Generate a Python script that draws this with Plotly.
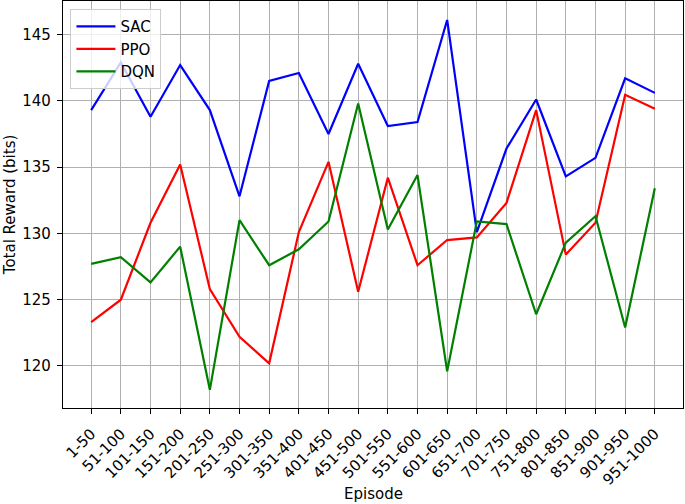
import plotly.graph_objects as go

episodes = ["1-50", "51-100", "101-150", "151-200", "201-250", "251-300", "301-350",
            "351-400", "401-450", "451-500", "501-550", "551-600", "601-650", "651-700",
            "701-750", "751-800", "801-850", "851-900", "901-950", "951-1000"]

sac = [139.3, 142.9, 138.8, 142.7, 139.3, 132.8, 141.5, 142.1, 137.5, 142.8,
       138.1, 138.4, 146.1, 130.1, 136.4, 140.1, 134.3, 135.7, 141.7, 140.6]
ppo = [123.3, 125.0, 130.8, 135.2, 125.8, 122.2, 120.2, 130.1, 135.4, 125.6,
       134.2, 127.6, 129.5, 129.7, 132.3, 139.3, 128.4, 130.8, 140.45, 139.4]
dqn = [127.7, 128.2, 126.3, 129.0, 118.2, 131.0, 127.6, 128.8, 130.9, 139.8,
       130.3, 134.4, 119.6, 130.9, 130.7, 123.9, 129.3, 131.3, 122.9, 133.4]

series = [("SAC", sac, "#0000ff"), ("PPO", ppo, "#ff0000"), ("DQN", dqn, "#008000")]

fig = go.Figure()
for name, vals, col in series:
    fig.add_trace(go.Scatter(x=list(range(len(episodes))), y=vals, mode="lines", name=name,
                             line=dict(color=col, width=2.2)))

font = dict(family="DejaVu Sans", size=15, color="#000000")
axis_common = dict(showline=True, linecolor="#000000", linewidth=1.2, mirror=True,
                   ticks="outside", ticklen=5, tickwidth=1.2, tickcolor="#000000",
                   showgrid=True, gridcolor="#b0b0b0", gridwidth=1.2, zeroline=False,
                   tickfont=font, automargin=False)

fig.update_layout(
    width=685, height=504,
    margin=dict(l=63, r=2, t=1, b=96, autoexpand=False),
    paper_bgcolor="white", plot_bgcolor="white",
    font=font,
    xaxis=dict(**axis_common, tickmode="array", tickvals=list(range(len(episodes))),
               ticktext=episodes, tickangle=-45, range=[-0.95, 19.95], ticklabelstandoff=5),
    yaxis=dict(**axis_common, range=[116.83, 147.53], tickvals=[120, 125, 130, 135, 140, 145],
               ticklabelstandoff=3),
    legend=dict(x=0.012, y=0.98, xanchor="left", yanchor="top",
                bgcolor="rgba(255,255,255,0.8)", bordercolor="#cccccc", borderwidth=1,
                font=font, tracegroupgap=0, itemwidth=39),
    showlegend=True,
    annotations=[
        dict(text="Episode", xref="paper", yref="paper", x=0.5, y=-0.211,
             xanchor="center", yanchor="middle", showarrow=False, font=font),
        dict(text="Total Reward (bits)", xref="paper", yref="paper", x=-0.086, y=0.5,
             xanchor="center", yanchor="middle", showarrow=False, textangle=-90, font=font),
    ],
)

fig.write_html("out.html", config={"displayModeBar": False},
               post_script="document.body.style.margin='0px';document.body.style.overflow='hidden';")
